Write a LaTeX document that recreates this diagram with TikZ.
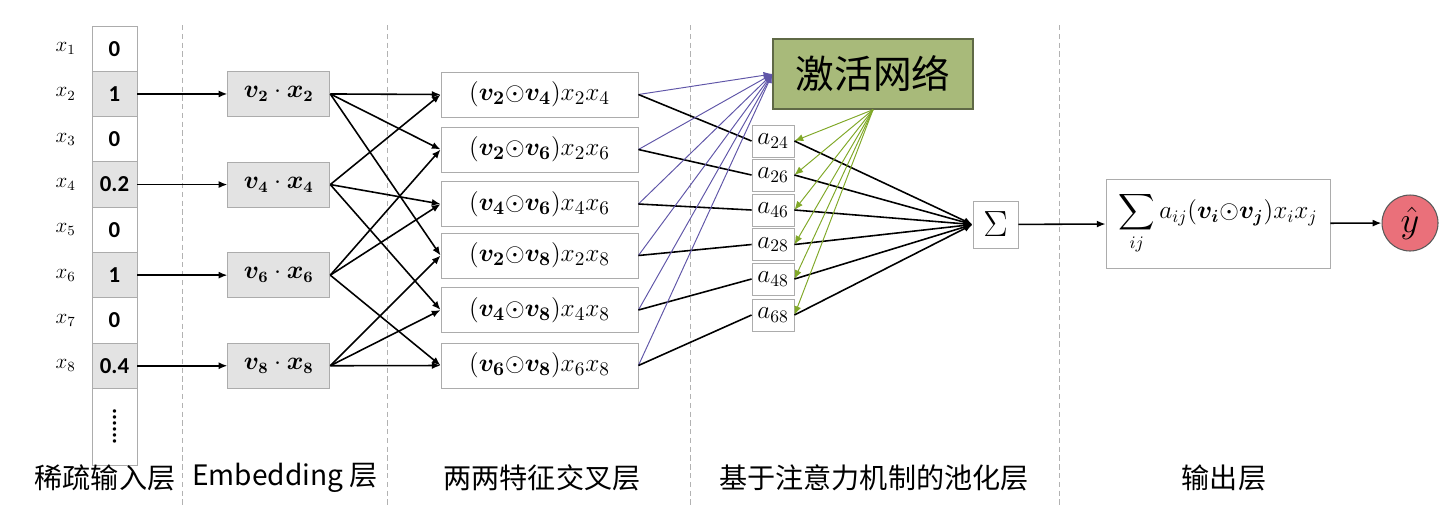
\documentclass[tikz,border=0pt]{standalone}
\usepackage{amsmath}
\usepackage{bm}
\usepackage{graphicx}
\usepackage{fontspec}
\setmainfont{Noto Sans CJK SC}
\newfontfamily\digitfont{Carlito}
\usetikzlibrary{arrows.meta,positioning}

\definecolor{actgreen}{RGB}{168,186,122}
\definecolor{actborder}{RGB}{95,105,70}
\definecolor{attnblue}{RGB}{96,86,168}
\definecolor{gategreen}{RGB}{128,168,40}
\definecolor{outred}{RGB}{234,112,122}

\begin{document}
\begin{tikzpicture}[
    x = 0.02cm, y = -0.02cm, % one unit = one pixel of the sketch
    > = {Latex[length=5pt,width=4pt]}, % arrow head style
    line width = 0.9pt
    ]

    \tikzset{
    box/.style = {draw = gray!65, line width = 0.5pt, inner sep = 0pt},
    cell/.style = {box, minimum width = 0.9cm, minimum height = 0.906cm,
        font = \digitfont\bfseries\fontsize{13}{15}\selectfont},
    xlab/.style = {inner sep = 0pt, font = \fontsize{12}{14}\selectfont},
    embed/.style = {box, fill = gray!22, minimum width = 2.04cm, minimum height = 0.9cm,
        font = \fontsize{13.5}{15}\selectfont},
    cross/.style = {box, minimum width = 3.94cm, minimum height = 0.9cm,
        font = \fontsize{15.5}{17}\selectfont},
    weight/.style = {box, minimum width = 0.84cm, minimum height = 0.64cm,
        font = \fontsize{14.5}{16}\selectfont},
    layer/.style = {font = \fontsize{16}{18}\selectfont},
    sep/.style = {draw = gray!60, line width = 0.4pt, densely dashed},
    attn/.style = {draw = attnblue, line width = 0.55pt},
    gate/.style = {draw = gategreen, line width = 0.55pt}
    }

    \useasboundingbox (0,0) rectangle (1446,505);

    % layer separators
    \foreach \x in {182,387,690,1059}
        \draw[sep] (\x,25) -- (\x,505);

    % sparse input
    \foreach \i/\v/\f in {1/0/white,2/1/gray!22,3/0/white,4/0.2/gray!22,
                          5/0/white,6/1/gray!22,7/0/white,8/0.4/gray!22}
    {
        \node[cell, fill = \f] (c\i) at (114.5, {26+45.3*(\i-0.5)}) {\v};
        \node[xlab] (l\i) [left = 0.3cm of c\i] {$x_{\i}$};
    }
    \node[cell, minimum height = 1.54cm] (cdots) at (114.5,426.5)
        {\rotatebox{90}{\bfseries......}};

    % embedding
    \foreach \i in {2,4,6,8}
    {
        \node[embed] (e\i) [right = 1.8cm of c\i]
            {$\bm{v}_{\bm{\i}}\cdot\bm{x}_{\bm{\i}}$};
        \draw[->] (c\i) -- (e\i);
    }

    % pairwise interactions
    \foreach \a/\b/\y in {2/4/94.5,2/6/149.5,4/6/204,2/8/255.5,4/8/310,6/8/365.5}
        \node[cross] (p\a\b) at (539.5,\y)
            {$(\bm{v}_{\bm{\a}}{\odot}\bm{v}_{\bm{\b}})x_{\a}x_{\b}$};

    \foreach \i/\j in {2/24,2/26,2/28,4/24,4/46,4/48,
                       6/26,6/46,6/68,8/28,8/48,8/68}
        \draw[->] (e\i.east) -- (p\j.west);

    % attention pooling
    \node[box, draw = actborder, line width = 0.8pt, fill = actgreen,
          minimum width = 4cm, minimum height = 1.4cm,
          font = \fontsize{22}{24}\selectfont] (act) at (873,74) {激活网络};

    \foreach \a/\b/\y in {2/4/141,2/6/175,4/6/210,2/8/244.5,4/8/279,6/8/315}
        \node[weight] (a\a\b) at (773,\y) {$a_{\a\b}$};

    \node[box, minimum width = 0.9cm, minimum height = 0.94cm,
          font = \fontsize{22}{24}\selectfont] (sum) at (995.5,224.5) {$\Sigma$};

    \foreach \j in {24,26,46,28,48,68}
    {
        \draw[->, attn] (p\j.east) -- (act.west);
        \draw (p\j.east) -- (a\j.west);
        \draw[->, gate] (act.south) -- (a\j.east);
        \draw[->] (a\j.east) -- (sum.west);
    }

    % output
    \node[box, minimum width = 4.48cm, minimum height = 1.78cm,
          font = \fontsize{14}{16}\selectfont] (out) at (1218,223.5)
        {$\displaystyle\sum_{ij}a_{ij}(\bm{v}_{\bm{i}}{\odot}\bm{v}_{\bm{j}})x_ix_j$};
    \node[circle, draw = gray!70!black, line width = 0.6pt, fill = outred,
          minimum size = 1.12cm, inner sep = 0pt,
          font = \fontsize{20}{22}\selectfont] (yhat) at (1410,223) {$\hat{y}$};

    \draw[->] (sum) -- (out);
    \draw[->] (out) -- (yhat);

    % layer names
    \node[layer] (t1) at (105,478) {稀疏输入层};
    \node[layer] (t2) at (285,478) {Embedding 层};
    \node[layer] (t3) at (542,478) {两两特征交叉层};
    \node[layer] (t4) at (874,478) {基于注意力机制的池化层};
    \node[layer] (t5) at (1224,478) {输出层};
\end{tikzpicture}
\end{document}
